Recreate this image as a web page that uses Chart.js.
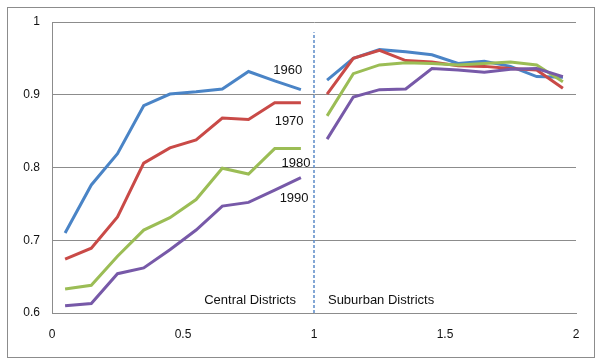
<!DOCTYPE html>
<html>
<head>
<meta charset="utf-8">
<script src="https://cdn.jsdelivr.net/npm/chart.js@4.4.1/dist/chart.umd.min.js"></script>
<style>
  html, body { margin: 0; padding: 0; background: #fff; }
  #wrap { width: 600px; height: 363px; }
</style>
</head>
<body>
<div id="wrap"><canvas id="lineChart" width="600" height="363"></canvas></div>
<script>
// x positions of the districts (distance bands)
const xCentral = [0.05, 0.15, 0.25, 0.35, 0.45, 0.55, 0.65, 0.75, 0.85, 0.95];
const xSuburban = [1.05, 1.15, 1.25, 1.35, 1.45, 1.55, 1.65, 1.75, 1.85, 1.95];

const years = ['1960', '1970', '1980', '1990'];

const central1960 = [0.710, 0.776, 0.819, 0.885, 0.901, 0.904, 0.908, 0.932, 0.919, 0.907];
const central1970 = [0.674, 0.689, 0.732, 0.806, 0.827, 0.838, 0.868, 0.866, 0.889, 0.889];
const central1980 = [0.633, 0.638, 0.678, 0.714, 0.731, 0.756, 0.799, 0.791, 0.826, 0.826];
const central1990 = [0.610, 0.613, 0.654, 0.662, 0.687, 0.714, 0.747, 0.752, 0.769, 0.786];

const suburban1960 = [0.920, 0.950, 0.962, 0.959, 0.955, 0.943, 0.946, 0.939, 0.925, 0.924];
const suburban1970 = [0.901, 0.950, 0.961, 0.947, 0.945, 0.940, 0.939, 0.936, 0.934, 0.909];
const suburban1980 = [0.871, 0.929, 0.941, 0.944, 0.943, 0.941, 0.943, 0.945, 0.941, 0.918];
const suburban1990 = [0.839, 0.897, 0.907, 0.908, 0.936, 0.934, 0.931, 0.935, 0.936, 0.925];

const yTicks = [0.6, 0.7, 0.8, 0.9, 1];
const xTicks = [0, 0.5, 1, 1.5, 2];

const colors = ['#4a84c6', '#c94a47', '#9bbd55', '#7759a8'];
const centralSets = [central1960, central1970, central1980, central1990];
const suburbanSets = [suburban1960, suburban1970, suburban1980, suburban1990];

// text placed in data coordinates
const notes = [
  { text: '1960', x: 0.90, y: 0.934 },
  { text: '1970', x: 0.905, y: 0.864 },
  { text: '1980', x: 0.931, y: 0.805 },
  { text: '1990', x: 0.924, y: 0.757 },
  { text: 'Central Districts', x: 0.756, y: 0.617 },
  { text: 'Suburban Districts', x: 1.256, y: 0.617 }
];

function pts(xs, ys) {
  return xs.map((x, i) => ({ x: x, y: ys[i] }));
}

const datasets = [];
years.forEach((yr, i) => {
  [pts(xCentral, centralSets[i]), pts(xSuburban, suburbanSets[i])].forEach(d => {
    datasets.push({
      label: yr,
      data: d,
      borderColor: colors[i],
      borderWidth: 3,
      pointRadius: 0,
      tension: 0,
      fill: false,
      order: 10 - i
    });
  });
});
// dashed divider between central and suburban districts
datasets.push({
  label: 'divider',
  data: [{ x: 1, y: 0.6 }, { x: 1, y: 0.986 }],
  borderColor: '#5b8ac8',
  borderWidth: 1.5,
  borderDash: [3, 2],
  pointRadius: 0,
  order: 20
});

const extras = {
  id: 'extras',
  afterDatasetsDraw(chart) {
    const c = chart.ctx, xs = chart.scales.x, ys = chart.scales.y;
    c.save();
    c.font = '13px "Liberation Sans", Arial, sans-serif';
    c.fillStyle = '#111';
    c.textAlign = 'center';
    c.textBaseline = 'middle';
    notes.forEach(n => c.fillText(n.text, xs.getPixelForValue(n.x), ys.getPixelForValue(n.y)));
    c.restore();
  },
  afterDraw(chart) {
    const c = chart.ctx;
    c.save();
    c.strokeStyle = '#8c8c8c';
    c.lineWidth = 1;
    c.strokeRect(7.5, 7.5, 587, 350);
    c.restore();
  }
};

const ctx = document.getElementById('lineChart').getContext('2d');
const myChart = new Chart(ctx, {
  type: 'line',
  data: { datasets: datasets },
  options: {
    responsive: false,
    animation: false,
    layout: { padding: { top: 22, right: 24, left: 0, bottom: 0 } },
    plugins: { legend: { display: false }, tooltip: { enabled: false } },
    scales: {
      x: {
        type: 'linear',
        min: 0, max: 2,
        afterBuildTicks: s => { s.ticks = xTicks.map(v => ({ value: v })); },
        afterFit: s => { s.height = 50; },
        grid: { display: false, drawTicks: false },
        border: { display: true, color: '#8c8c8c', width: 1 },
        ticks: {
          padding: 14,
          color: '#111',
          font: { family: '"Liberation Sans", Arial, sans-serif', size: 12 },
          maxRotation: 0,
          callback: v => String(+v.toFixed(1))
        }
      },
      y: {
        min: 0.6, max: 1,
        afterBuildTicks: s => { s.ticks = yTicks.map(v => ({ value: v })); },
        afterFit: s => { s.width = 52; },
        grid: { color: '#8c8c8c', drawTicks: false, lineWidth: 1 },
        border: { display: true, color: '#8c8c8c', width: 1 },
        ticks: {
          padding: 12,
          color: '#111',
          font: { family: '"Liberation Sans", Arial, sans-serif', size: 12 },
          callback: v => String(+v.toFixed(1))
        }
      }
    }
  },
  plugins: [extras]
});
</script>
</body>
</html>
